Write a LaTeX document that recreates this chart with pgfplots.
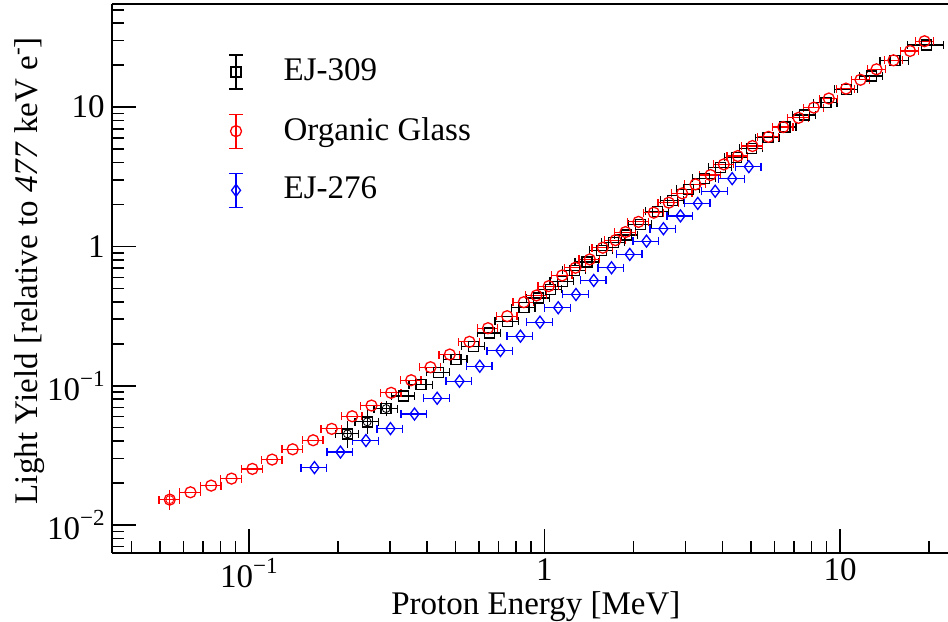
\documentclass[border=0pt]{standalone}
\usepackage{fontspec}
\setmainfont{Liberation Serif}
\usepackage{pgfplots}
\pgfplotsset{compat=1.18}
\newcommand{\ex}[1]{\raisebox{0.42em}{\fontsize{11.5}{12}\selectfont #1}}
\pgfplotsset{
  ebleg/.style n args={3}{legend image code/.code={
    \draw[#1, line width=0.6pt] (0pt,-8.5pt) -- (0pt,8.5pt) (-3.5pt,-8.5pt) -- (3.5pt,-8.5pt) (-3.5pt,8.5pt) -- (3.5pt,8.5pt);
    \draw[#1, line width=0.65pt] plot[only marks, mark=#2, mark size=#3] coordinates {(0pt,0pt)};
  }},
  xeb/.style={error bars/.cd, x dir=both, x explicit relative,
    error bar style={line width=0.6pt}, error mark=|, error mark options={line width=0.6pt, mark size=2pt}},
  yeb/.style={error bars/.cd, y dir=both, y explicit relative,
    error bar style={line width=0.6pt}, error mark=-, error mark options={line width=0.6pt, mark size=2pt}},
}
\begin{document}
\fontsize{16.5}{19.8}\selectfont
\begin{tikzpicture}
\begin{axis}[
  name=ax,
  scale only axis,
  width=418pt, height=274.5pt,
  xmode=log, ymode=log,
  xmin=0.0344, xmax=23.2,
  ymin=0.0063, ymax=55,
  axis x line*=box, axis y line*=left,
  xtick pos=left, ytick pos=left,
  tick align=inside,
  axis line style={line width=0.9pt},
  every tick/.style={black, line width=0.8pt},
  major tick length=12pt, minor tick length=6pt,
  xtick={0.1,1,10},
  xticklabels={10\ex{−1},1,10},
  minor xtick={0.04,0.05,0.06,0.07,0.08,0.09,0.2,0.3,0.4,0.5,0.6,0.7,0.8,0.9,2,3,4,5,6,7,8,9,20},
  ytick={0.01,0.1,1,10},
  yticklabels={10\ex{−2},10\ex{−1},1,10},
  minor ytick={0.007,0.008,0.009,0.02,0.03,0.04,0.05,0.06,0.07,0.08,0.09,0.2,0.3,0.4,0.5,0.6,0.7,0.8,0.9,2,3,4,5,6,7,8,9,20,30,40,50},
  tick label style={font=\fontsize{16.5}{19.8}\selectfont},
  yticklabel style={inner sep=3.5pt},
  xticklabel style={inner sep=2.5pt},
  label style={font=\fontsize{16.5}{19.8}\selectfont},
  xlabel={Proton Energy [MeV]},
  xlabel style={at={(axis description cs:0.507,-0.097)}, anchor=center},
  ylabel={Light Yield [relative to \textit{477} keV e\ex{-}]},
  ylabel style={at={(axis description cs:-0.098,0.514)}, anchor=center, rotate=0},
  legend style={at={(axis description cs:0.1388,0.909)}, anchor=north west, draw=none, fill=none,
    inner sep=0pt, row sep=12pt, column sep=20pt, nodes={inner sep=0pt},
    font=\fontsize{16.5}{19.8}\selectfont},
  legend cell align=left,
]
\addplot[only marks, black, mark=square, mark size=2.5pt, mark options={line width=0.65pt},
  ebleg={black}{square}{2.5pt}, xeb]
table[x=x, y=y, x error=ex] {
x y ex
0.2154 0.04512 0.09
0.2512 0.05504 0.09
0.2912 0.06859 0.09
0.3341 0.08433 0.09
0.3825 0.1020 0.09
0.4388 0.1250 0.09
0.5017 0.1550 0.09
0.5751 0.1922 0.09
0.6514 0.2391 0.09
0.7478 0.2892 0.09
0.8524 0.3628 0.09
0.9544 0.4266 0.09
1.048 0.4911 0.09
1.148 0.5632 0.09
1.263 0.6725 0.09
1.394 0.7738 0.09
1.559 0.9360 0.09
1.716 1.068 0.09
1.895 1.209 0.09
2.113 1.439 0.09
2.407 1.784 0.09
2.712 2.140 0.09
3.072 2.568 0.09
3.479 3.080 0.09
3.941 3.694 0.09
4.464 4.358 0.09
5.017 5.058 0.09
5.705 6.018 0.09
6.515 7.194 0.09
7.603 8.774 0.09
8.967 10.77 0.09
10.50 13.43 0.09
12.79 16.73 0.09
15.35 21.58 0.11
19.62 27.93 0.14
};
\addlegendentry{EJ-309}
\addplot[only marks, black, mark=o, mark options={draw=none, fill=none}, forget plot, yeb]
table[x=x, y=y, y error=ey] {
x y ey
0.2154 0.04512 0.155
0.2512 0.05504 0.13
0.2912 0.06859 0.06
};
\addplot[only marks, red, mark=o, mark size=2.75pt, mark options={line width=0.65pt},
  ebleg={red}{o}{2.75pt}, xeb]
table[x=x, y=y, x error=ex] {
x y ex
0.05395 0.01522 0.08
0.0634 0.01718 0.08
0.0745 0.01919 0.08
0.0873 0.02154 0.08
0.1027 0.02529 0.08
0.1198 0.0295 0.08
0.1406 0.03498 0.08
0.1649 0.0406 0.08
0.1906 0.04901 0.08
0.2235 0.06038 0.08
0.2598 0.07207 0.08
0.3028 0.08892 0.08
0.3539 0.1095 0.08
0.4114 0.1358 0.08
0.4781 0.1675 0.08
0.5574 0.2067 0.08
0.6438 0.2588 0.08
0.7478 0.3157 0.08
0.8512 0.3980 0.08
0.9395 0.4446 0.08
1.034 0.5186 0.08
1.148 0.6188 0.08
1.273 0.7031 0.08
1.423 0.8067 0.08
1.575 0.9788 0.08
1.739 1.110 0.08
1.880 1.267 0.08
2.080 1.500 0.08
2.344 1.747 0.08
2.634 2.061 0.08
2.924 2.403 0.08
3.243 2.789 0.08
3.646 3.253 0.08
4.044 3.882 0.08
4.510 4.454 0.08
5.058 5.255 0.08
5.728 6.117 0.08
6.425 7.194 0.08
7.237 8.378 0.08
8.154 9.917 0.08
9.166 11.53 0.07
10.48 13.58 0.07
11.73 15.71 0.07
13.29 18.69 0.07
15.17 21.69 0.07
17.26 25.29 0.07
19.32 29.71 0.07
};
\addlegendentry{Organic Glass}
\addplot[only marks, red, mark=o, mark options={draw=none, fill=none}, forget plot, yeb]
table[x=x, y=y, y error=ey] {
x y ey
0.05395 0.01522 0.10
};
\addplot[only marks, blue, mark=diamond, mark size=3pt, mark options={line width=0.65pt},
  ebleg={blue}{diamond}{3pt}, xeb]
table[x=x, y=y, x error=ex] {
x y ex
0.1666 0.02585 0.1
0.2040 0.0334 0.1
0.2488 0.0404 0.1
0.3012 0.04925 0.1
0.3632 0.06262 0.1
0.4334 0.08132 0.1
0.5157 0.1077 0.1
0.6040 0.1380 0.1
0.7098 0.1790 0.1
0.8294 0.2268 0.1
0.9656 0.2859 0.1
1.113 0.3628 0.1
1.278 0.4519 0.1
1.468 0.5696 0.1
1.686 0.7031 0.1
1.944 0.8761 0.1
2.214 1.092 0.1
2.527 1.340 0.1
2.885 1.656 0.1
3.302 2.037 0.1
3.782 2.492 0.1
4.317 3.069 0.1
4.914 3.738 0.1
};
\addlegendentry{EJ-276}
\end{axis}
\pgfresetboundingbox
\path[use as bounding box] ([xshift=-56pt,yshift=-34.5pt]ax.south west) rectangle ([yshift=2pt]ax.north east);
\end{tikzpicture}
\end{document}
